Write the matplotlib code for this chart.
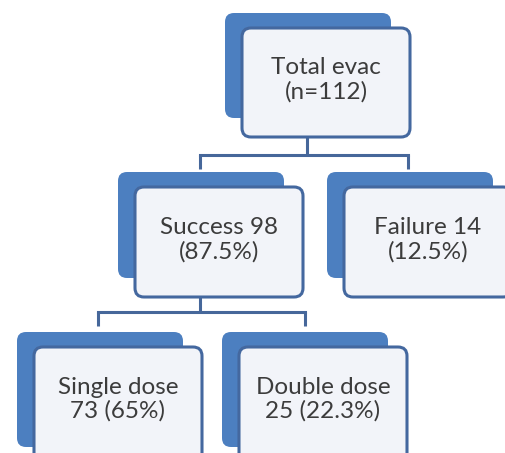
import matplotlib
matplotlib.use("Agg")
import matplotlib.pyplot as plt
from matplotlib.patches import FancyBboxPatch

plt.rcParams["font.family"] = ["Lato", "DejaVu Sans"]

# 节点文本
labels_top = ["Total evac", "(n=112)"]
labels_mid = [["Success 98", "(87.5%)"], ["Failure 14", "(12.5%)"]]
labels_bot = [["Single dose", "73 (65%)"], ["Double dose", "25 (22.3%)"]]

# 配色
BACK_BLUE = "#4C7FC0"
EDGE_BLUE = "#44689F"
FACE = "#F2F4F9"
LINE = "#46679A"
TEXT = "#3C3C3C"

W, H = 505, 453
fig = plt.figure(figsize=(W / 100, H / 100), dpi=100)
ax = fig.add_axes([0, 0, 1, 1])
ax.set_xlim(0, W)
ax.set_ylim(H, 0)
ax.axis("off")


def node(ax, left, top, text_lines, text_y, w=166, h=106, dx=17, dy=15):
    # 背后的蓝色块 + 前面的白框
    back = FancyBboxPatch((left, top), w, h,
                          boxstyle="round,pad=0,rounding_size=9",
                          fc=BACK_BLUE, ec="none", zorder=1)
    ax.add_patch(back)
    front = FancyBboxPatch((left + dx, top + dy), w + 2, h + 4,
                           boxstyle="round,pad=0,rounding_size=9",
                           fc=FACE, ec=EDGE_BLUE, lw=2.2, zorder=2)
    ax.add_patch(front)
    cx = left + dx + (w + 2) / 2
    ax.text(cx, text_y - 12, text_lines[0], ha="center", va="center",
            fontsize=17.5, color=TEXT, zorder=3)
    ax.text(cx, text_y + 12, text_lines[1], ha="center", va="center",
            fontsize=17.5, color=TEXT, zorder=3)


def connector(ax, x_from, y_from, y_mid, xs_to, y_to):
    ax.plot([x_from, x_from], [y_from, y_mid], color=LINE, lw=2.2,
            solid_capstyle="butt", zorder=0)
    ax.plot([min(xs_to), max(xs_to)], [y_mid, y_mid], color=LINE, lw=2.2,
            solid_capstyle="projecting", zorder=0)
    for x in xs_to:
        ax.plot([x, x], [y_mid, y_to], color=LINE, lw=2.2,
                solid_capstyle="butt", zorder=0)


# 第一层
node(ax, 225, 13, labels_top, 79.5, w=166, h=105)
connector(ax, 307, 137, 155, [200, 408], 169)

# 第二层
node(ax, 118, 172, labels_mid[0], 240, w=166, h=106)
node(ax, 327, 172, labels_mid[1], 240, w=166, h=106)
connector(ax, 200, 297, 312, [98, 305], 326)

# 第三层（下边缘超出画布）
node(ax, 17, 332, labels_bot[0], 399, w=166, h=115)
node(ax, 222, 332, labels_bot[1], 399, w=166, h=115)

fig.savefig("out.png", dpi=100, facecolor="white")
